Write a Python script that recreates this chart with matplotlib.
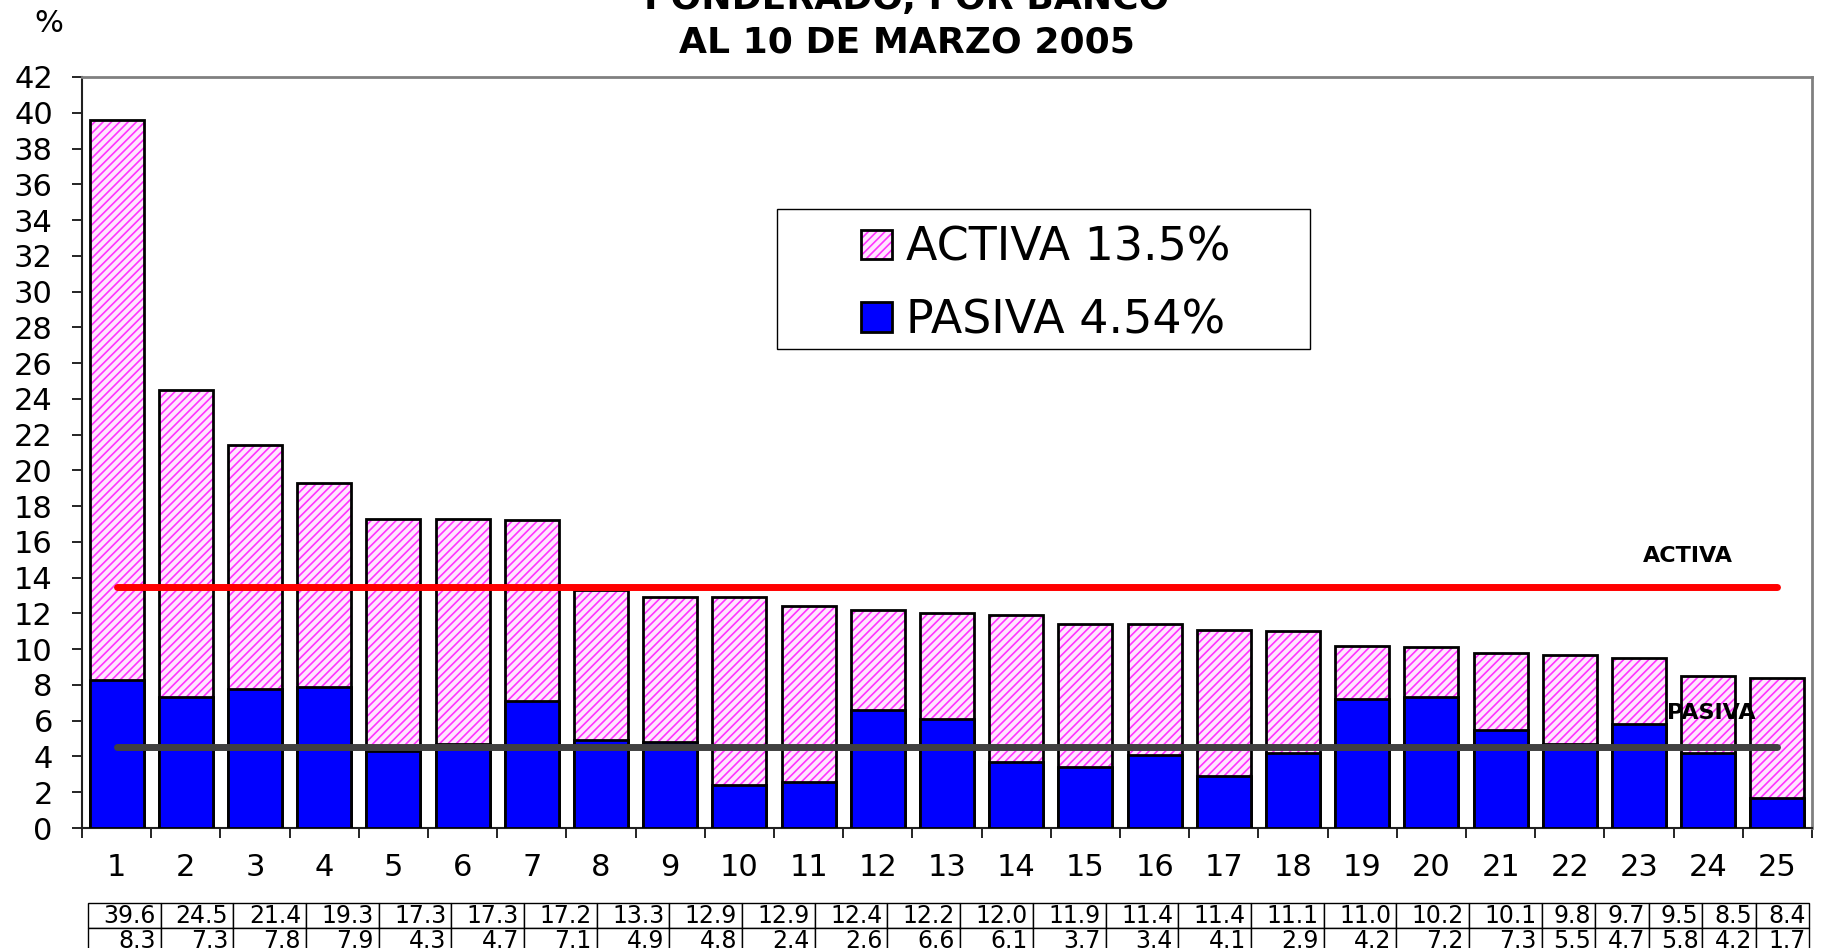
import matplotlib
matplotlib.use('Agg')
import matplotlib.pyplot as plt
from matplotlib.patches import Patch, Rectangle

# tasas por banco (%)
bancos = list(range(1, 26))
activa = [39.6, 24.5, 21.4, 19.3, 17.3, 17.3, 17.2, 13.3, 12.9, 12.9, 12.4, 12.2, 12.0,
          11.9, 11.4, 11.4, 11.1, 11.0, 10.2, 10.1, 9.8, 9.7, 9.5, 8.5, 8.4]
pasiva = [8.3, 7.3, 7.8, 7.9, 4.3, 4.7, 7.1, 4.9, 4.8, 2.4, 2.6, 6.6, 6.1,
          3.7, 3.4, 4.1, 2.9, 4.2, 7.2, 7.3, 5.5, 4.7, 5.8, 4.2, 1.7]
prom_activa = 13.5
prom_pasiva = 4.54

titulo1 = 'PONDERADO, POR BANCO'
titulo2 = 'AL 10 DE MARZO 2005'

plt.rcParams['font.family'] = 'DejaVu Sans'
plt.rcParams['hatch.linewidth'] = 1.2

fig = plt.figure(figsize=(18.24, 9.48), dpi=100)
ax = fig.add_axes([0.04496, 0.12658, 0.9485, 0.7922])

ancho = 0.78
pink_hatch = '#FF33FF'
# barras activa: relleno rayado y borde negro por separado
ax.bar(bancos, activa, width=ancho, color='#FFE6FF', hatch='////',
       edgecolor=pink_hatch, linewidth=0, zorder=2)
ax.bar(bancos, activa, width=ancho, fill=False, edgecolor='black',
       linewidth=2, zorder=3)
ax.bar(bancos, pasiva, width=ancho, color='#0000FF', edgecolor='black',
       linewidth=2, zorder=4)

# lineas de promedio
ax.plot([bancos[0], bancos[-1]], [prom_activa, prom_activa], color='#FF0000',
        linewidth=5, solid_capstyle='round', zorder=5)
ax.plot([bancos[0], bancos[-1]], [prom_pasiva, prom_pasiva], color='#404040',
        linewidth=5, solid_capstyle='round', zorder=5)
ax.text(23.7, 15.2, 'ACTIVA', fontsize=16, fontweight='bold', ha='center',
        va='center', zorder=6)
ax.text(24.05, 6.45, 'PASIVA', fontsize=16, fontweight='bold', ha='center',
        va='center', zorder=6)

ax.set_xlim(0.5, 25.5)
ax.set_ylim(0, 42)
ax.set_yticks(range(0, 43, 2))
ax.set_xticks(bancos)
ax.set_xticks([b + 0.5 for b in [0] + bancos], minor=True)
ax.tick_params(axis='x', which='major', length=0, pad=18, labelsize=22)
ax.tick_params(axis='x', which='minor', length=7, width=1.2, direction='out')
ax.tick_params(axis='y', length=7, width=1.2, pad=14, labelsize=22)

for s in ['left', 'bottom']:
    ax.spines[s].set_linewidth(1.5)
    ax.spines[s].set_color('#202020')
for s in ['top', 'right']:
    ax.spines[s].set_linewidth(2)
    ax.spines[s].set_color('#808080')

# leyenda con marco propio
ax.add_patch(Rectangle((0.402, 0.638), 0.308, 0.186, transform=ax.transAxes,
                       facecolor='white', edgecolor='black', linewidth=1,
                       zorder=7))
h_act = (Patch(facecolor='#FFE6FF', hatch='////', edgecolor=pink_hatch, linewidth=0),
         Patch(fill=False, edgecolor='black', linewidth=2))
h_pas = Patch(facecolor='#0000FF', edgecolor='black', linewidth=2)
leg = ax.legend([h_act, h_pas], ['ACTIVA 13.5%', 'PASIVA 4.54%'],
                loc='center', bbox_to_anchor=(0.557, 0.724), frameon=False,
                fontsize=33, handlelength=0.68, handleheight=0.62,
                handletextpad=0.3, labelspacing=0.6)
leg.set_zorder(8)

# tabla de datos
fmt = lambda v: f'{v:.1f}'
tabla = ax.table(cellText=[[fmt(v) for v in activa], [fmt(v) for v in pasiva]],
                 cellLoc='right', colWidths=[72.7] * 20 + [53.6] * 5,
                 bbox=[0.0035, -0.1665, 0.995, 0.0666])
tabla.auto_set_font_size(False)
tabla.set_fontsize(17)
for cell in tabla.get_celld().values():
    cell.set_linewidth(1)
    cell.set_edgecolor('black')
    cell.PAD = 0.07

fig.text(0.497, 0.9905, titulo1, fontsize=26, fontweight='bold', ha='center',
         va='baseline')
fig.text(0.497, 0.945, titulo2, fontsize=26, fontweight='bold', ha='center',
         va='baseline')
fig.text(0.027, 0.975, '%', fontsize=22, ha='center', va='center')

fig.savefig('out.png', dpi=100)
